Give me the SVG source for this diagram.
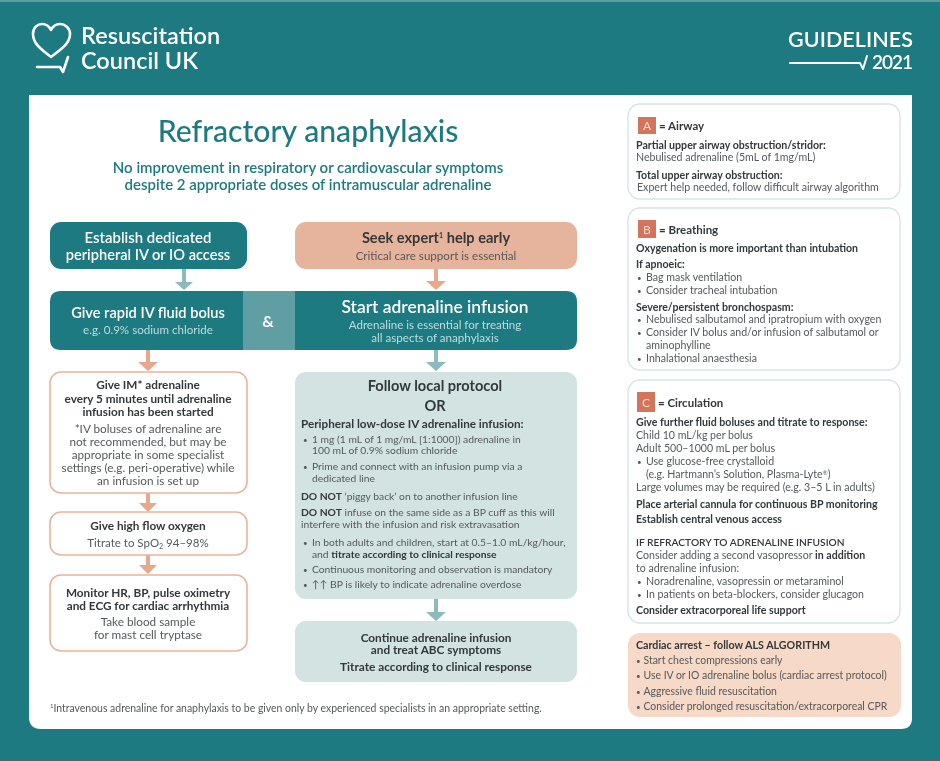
<svg xmlns="http://www.w3.org/2000/svg" width="940" height="761" viewBox="0 0 940 761">
<style>
text{font-family:"Lato","Liberation Sans",sans-serif;fill:#55595b}
.b{font-weight:700;fill:#33383a}
.c{text-anchor:middle}
.w{fill:#fff}
.s{font-size:10.6px}
.p{font-size:10.3px}
.d{font-size:10.45px}
.m{font-size:11.75px}
.bu{font-size:8px}
.t{fill:#1d7a80}
.wf{fill:#1d7a80}
.o{fill:#fff;stroke:#e8b49c;stroke-width:1.6}
.pn{fill:#fff;stroke:#d3e6e4;stroke-width:1.4}
.badge{fill:#d2745c}
.bl{fill:#f6dcd0;font-size:12px;text-anchor:middle}
.ah{fill:none;stroke:#fff;stroke-width:2.6;stroke-linecap:round;stroke-linejoin:round}
.light{fill:#bfdcdc}
</style>
<defs>
<filter id="soft" x="0" y="0" width="100%" height="100%"><feGaussianBlur stdDeviation="0.35"/></filter>
</defs>
<g filter="url(#soft)">
<rect width="940" height="761" fill="#1d7a80"/>
<rect x="0" y="0" width="940" height="2" fill="#5c9ea2"/>
<g id="logo">
<path class="ah" d="M51 57C42 50 33 44 33 34C33 27 38 24 42 24C46 24 49 26 51 30C53 26 56 24 60 24C65 24 70 28 70 34C70 44 60 50 51 57Z"/>
<path class="ah" d="M37 67H60L63 72L68 57"/>
<text x="81" y="43.5" class="w" font-size="23.5" font-weight="600">Resuscitation</text>
<text x="81" y="68.5" class="w" font-size="23.5" font-weight="600">Council UK</text>
</g>
<g id="guidelines">
<text x="788" y="47" class="w" font-size="21.5" font-weight="600" textLength="125">GUIDELINES</text>
<text x="872" y="69" class="w" font-size="19" font-weight="600" textLength="41">2021</text>
<path class="ah" style="stroke-width:2" d="M790 63H860L863 69L867 56"/>
</g>
<path id="panel" d="M29 95H912V718Q912 729 901 729H41Q29 729 29 717Z" fill="#fff"/>
<g id="title">
<text x="308" y="142" class="c t" font-size="30.2" font-weight="500">Refractory anaphylaxis</text>
<text x="308" y="173" class="c t" font-size="15" font-weight="600">No improvement in respiratory or cardiovascular symptoms</text>
<text x="308" y="190" class="c t" font-size="15" font-weight="600">despite 2 appropriate doses of intramuscular adrenaline</text>
</g>
<g id="connectors">
<path d="M182 269h4v13h7l-9 8l-9-8h7z" fill="#8dbabc"/>
<path d="M146 350h4v12h8l-10 9l-10-9h8z" fill="#e8a88c"/>
<path d="M146 493h4v10h7l-9 9l-9-9h7z" fill="#e8a88c"/>
<path d="M146 555h4v10h7l-9 9l-9-9h7z" fill="#e8a88c"/>
<path d="M434 269h4v12h8l-10 9l-10-9h8z" fill="#e8a88c"/>
<path d="M434 350h4v12h8l-10 9l-10-9h8z" fill="#8dbabc"/>
<path d="M434 599h4v13h8l-10 9l-10-9h8z" fill="#8dbabc"/>
</g>
<g id="establish">
<rect x="50" y="222" width="197" height="47" rx="11" class="wf"/>
<text x="148" y="243" class="c w" font-size="14.9" font-weight="600">Establish dedicated</text>
<text x="148" y="260" class="c w" font-size="14.6" font-weight="600">peripheral IV or IO access</text>
</g>
<g id="seek">
<rect x="295" y="222" width="282" height="47" rx="11" fill="#e6b49c"/>
<text x="436" y="243" class="c b" font-size="14.6">Seek expert<tspan font-size="7" dy="-5">1</tspan><tspan dy="5"> help early</tspan></text>
<text x="436" y="259.5" class="c" font-size="11.6">Critical care support is essential</text>
</g>
<g id="bar">
<path d="M61 291H566Q577 291 577 302V339Q577 350 566 350H61Q50 350 50 339V302Q50 291 61 291Z" fill="#1d7a80"/>
<rect x="243" y="291" width="52" height="59" fill="#5f9fa3"/>
<text x="148" y="318" class="c w" font-size="14.6" font-weight="600">Give rapid IV fluid bolus</text>
<text x="148" y="334" class="c light" font-size="11.6">e.g. 0.9% sodium chloride</text>
<text x="268" y="327" class="c w" font-size="16" font-weight="700">&amp;</text>
<text x="435" y="313" class="c w" font-size="17.4" font-weight="600">Start adrenaline infusion</text>
<text x="435" y="329" class="c light" font-size="11.6">Adrenaline is essential for treating</text>
<text x="435" y="342" class="c light" font-size="11.6">all aspects of anaphylaxis</text>
</g>
<g id="im">
<rect x="50" y="372" width="197" height="121" rx="11" class="o"/>
<text x="148" y="389" class="c b m">Give IM* adrenaline</text>
<text x="148" y="403" class="c b m">every 5 minutes until adrenaline</text>
<text x="148" y="416" class="c b m">infusion has been started</text>
<text x="148" y="433" class="c m">*IV boluses of adrenaline are</text>
<text x="148" y="446" class="c m">not recommended, but may be</text>
<text x="148" y="459" class="c m">appropriate in some specialist</text>
<text x="148" y="472" class="c m">settings (e.g. peri-operative) while</text>
<text x="148" y="484.5" class="c m">an infusion is set up</text>
</g>
<g id="oxygen">
<rect x="50" y="512" width="197" height="43" rx="11" class="o"/>
<text x="148" y="530" class="c b m">Give high flow oxygen</text>
<text x="148" y="546.5" class="c" font-size="11.5">Titrate to SpO<tspan font-size="7" dy="2">2</tspan><tspan dy="-2"> 94–98%</tspan></text>
</g>
<g id="monitor">
<rect x="50" y="575" width="197" height="76" rx="11" class="o"/>
<text x="148" y="597" class="c b m">Monitor HR, BP, pulse oximetry</text>
<text x="148" y="609.5" class="c b m">and ECG for cardiac arrhythmia</text>
<text x="148" y="626" class="c m">Take blood sample</text>
<text x="148" y="638.5" class="c m">for mast cell tryptase</text>
</g>
<g id="protocol">
<rect x="295" y="372" width="282" height="227" rx="11" fill="#d2e3e2"/>
<text x="435" y="391" class="c b" font-size="14.6">Follow local protocol</text>
<text x="435" y="411" class="c b" font-size="14.6">OR</text>
<text x="301" y="428" class="b" font-size="11.7">Peripheral low-dose IV adrenaline infusion:</text>
<text x="303" y="443" class="bu">•</text><text x="312" y="443" class="p">1 mg (1 mL of 1 mg/mL [1:1000]) adrenaline in</text>
<text x="312" y="454" class="p">100 mL of 0.9% sodium chloride</text>
<text x="303" y="470" class="bu">•</text><text x="312" y="470" class="p">Prime and connect with an infusion pump via a</text>
<text x="312" y="482" class="p">dedicated line</text>
<text x="301" y="500" class="p"><tspan class="b">DO NOT</tspan> ‘piggy back’ on to another infusion line</text>
<text x="301" y="516" class="p"><tspan class="b">DO NOT</tspan> infuse on the same side as a BP cuff as this will</text>
<text x="301" y="528" class="p">interfere with the infusion and risk extravasation</text>
<text x="303" y="546" class="bu">•</text><text x="312" y="546" class="p">In both adults and children, start at 0.5–1.0 mL/kg/hour,</text>
<text x="312" y="558" class="p">and <tspan class="b">titrate according to clinical response</tspan></text>
<text x="303" y="573" class="bu">•</text><text x="312" y="573" class="p">Continuous monitoring and observation is mandatory</text>
<text x="303" y="588" class="bu">•</text><text x="312" y="588" class="p">↑↑ BP is likely to indicate adrenaline overdose</text>
</g>
<g id="continue">
<rect x="295" y="621" width="282" height="61" rx="11" fill="#d2e3e2"/>
<text x="436" y="642" class="c b" font-size="11.8">Continue adrenaline infusion</text>
<text x="436" y="654" class="c b" font-size="11.8">and treat ABC symptoms</text>
<text x="436" y="671" class="c b" font-size="11.8">Titrate according to clinical response</text>
</g>
<text id="footnote" x="50" y="712" font-size="10.45"><tspan font-size="6" dy="-4">1</tspan><tspan dy="4">Intravenous adrenaline for anaphylaxis to be given only by experienced specialists in an appropriate setting.</tspan></text>
<g id="airway">
<rect x="628" y="104" width="272" height="95" rx="12" class="pn"/>
<rect x="638" y="117" width="18" height="17" class="badge"/>
<text x="647" y="130" class="bl">A</text>
<text x="659" y="130" class="b" font-size="11.5">= Airway</text>
<text x="636" y="148.5" class="b s">Partial upper airway obstruction/stridor:</text>
<text x="636" y="161" class="s">Nebulised adrenaline (5mL of 1mg/mL)</text>
<text x="636" y="178.5" class="b s">Total upper airway obstruction:</text>
<text x="637" y="191" class="s">Expert help needed, follow difficult airway algorithm</text>
</g>
<g id="breathing">
<rect x="628" y="208" width="272" height="162" rx="12" class="pn"/>
<rect x="638" y="220" width="18" height="18" class="badge"/>
<text x="647" y="233.5" class="bl">B</text>
<text x="659" y="233.5" class="b" font-size="11.5">= Breathing</text>
<text x="636" y="252" class="b s">Oxygenation is more important than intubation</text>
<text x="636" y="267.5" class="b s">If apnoeic:</text>
<text x="637" y="280.5" class="bu">•</text><text x="646" y="280.5" class="s">Bag mask ventilation</text>
<text x="637" y="293.5" class="bu">•</text><text x="646" y="293.5" class="s">Consider tracheal intubation</text>
<text x="636" y="310.5" class="b s">Severe/persistent bronchospasm:</text>
<text x="637" y="323" class="bu">•</text><text x="646" y="323" class="s">Nebulised salbutamol and ipratropium with oxygen</text>
<text x="637" y="336" class="bu">•</text><text x="646" y="336" class="s">Consider IV bolus and/or infusion of salbutamol or</text>
<text x="646" y="348.5" class="s">aminophylline</text>
<text x="637" y="361.5" class="bu">•</text><text x="646" y="361.5" class="s">Inhalational anaesthesia</text>
</g>
<g id="circulation">
<rect x="628" y="380" width="272" height="243" rx="12" class="pn"/>
<rect x="637" y="392" width="18" height="20" class="badge"/>
<text x="646" y="406.5" class="bl">C</text>
<text x="658" y="407" class="b" font-size="11.5">= Circulation</text>
<text x="636" y="426" class="b s">Give further fluid boluses and titrate to response:</text>
<text x="636" y="439" class="s">Child 10 mL/kg per bolus</text>
<text x="636" y="452" class="s">Adult 500–1000 mL per bolus</text>
<text x="637" y="465" class="bu">•</text><text x="646" y="465" class="s">Use glucose-free crystalloid</text>
<text x="646" y="478" class="s">(e.g. Hartmann’s Solution, Plasma-Lyte<tspan font-size="6" dy="-3">®</tspan><tspan dy="3">)</tspan></text>
<text x="636" y="491" class="s">Large volumes may be required (e.g. 3–5 L in adults)</text>
<text x="636" y="507.5" class="b s">Place arterial cannula for continuous BP monitoring</text>
<text x="636" y="522.5" class="b s">Establish central venous access</text>
<text x="636" y="546" class="b" font-size="10.2" style="font-weight:600">IF REFRACTORY TO ADRENALINE INFUSION</text>
<text x="636" y="558.5" class="s">Consider adding a second vasopressor <tspan class="b">in addition</tspan></text>
<text x="636" y="572" class="s">to adrenaline infusion:</text>
<text x="637" y="585" class="bu">•</text><text x="646" y="585" class="s">Noradrenaline, vasopressin or metaraminol</text>
<text x="637" y="598" class="bu">•</text><text x="646" y="598" class="s">In patients on beta-blockers, consider glucagon</text>
<text x="636" y="614" class="b s">Consider extracorporeal life support</text>
</g>
<g id="arrest">
<rect x="628" y="633" width="273" height="84" rx="12" fill="#f6d9c6"/>
<text x="636" y="649" class="b" font-size="10.7">Cardiac arrest – follow ALS ALGORITHM</text>
<text x="636" y="664" class="bu">•</text><text x="643.5" y="664" class="d">Start chest compressions early</text>
<text x="636" y="679" class="bu">•</text><text x="643.5" y="679" class="d">Use IV or IO adrenaline bolus (cardiac arrest protocol)</text>
<text x="636" y="695" class="bu">•</text><text x="643.5" y="695" class="d">Aggressive fluid resuscitation</text>
<text x="636" y="710" class="bu">•</text><text x="643.5" y="710" class="d">Consider prolonged resuscitation/extracorporeal CPR</text>
</g>
</g>
</svg>
